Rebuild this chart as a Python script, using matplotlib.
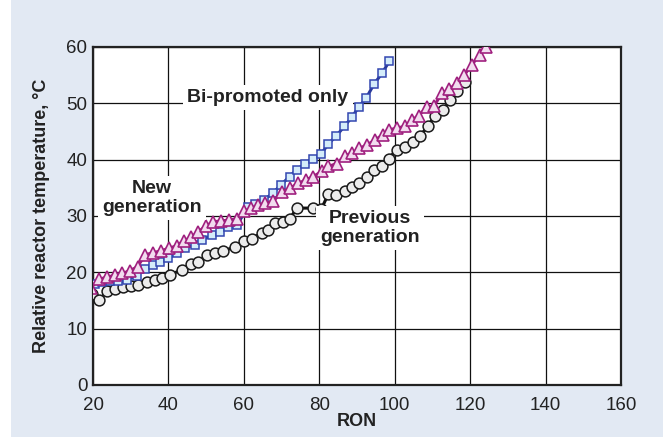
import matplotlib
matplotlib.use("Agg")
import matplotlib.pyplot as plt
from matplotlib import font_manager
from matplotlib.patches import Rectangle

# Previous generation (circles)
prev_ron = [19.6, 21.6, 23.6, 25.8, 28.0, 30.1, 32.0, 34.2, 36.4, 38.4, 40.4, 43.5, 46.0, 47.9,
            50.2, 52.3, 54.4, 57.7, 59.9, 62.1, 64.7, 66.5, 68.3, 70.5, 72.1, 74.0, 78.4, 80.5,
            82.4, 84.5, 86.7, 88.6, 90.6, 92.6, 94.5, 96.6, 98.4, 100.5, 102.7, 104.8, 106.7,
            108.7, 110.7, 112.7, 114.7, 116.6, 118.7]
prev_temp = [16.1, 15.0, 16.6, 17.1, 17.4, 17.6, 17.8, 18.2, 18.6, 19.0, 19.6, 20.4, 21.5, 21.9,
             23.0, 23.4, 23.8, 24.5, 25.5, 26.0, 27.0, 27.6, 28.7, 29.0, 29.4, 31.4, 31.4, 31.2,
             33.9, 33.7, 34.5, 35.2, 35.9, 37.0, 38.2, 38.8, 40.2, 41.8, 42.3, 43.2, 44.2,
             45.9, 47.8, 48.8, 50.5, 52.1, 53.7]

# Bi-promoted only (squares)
bi_ron = [20.5, 22.5, 24.5, 26.5, 29.0, 31.6, 33.8, 35.9, 37.8, 40.0, 42.2, 44.4, 47.0, 48.8,
          51.5, 53.7, 55.9, 58.1, 61.2, 63.0, 65.4, 67.6, 69.8, 72.1, 74.0, 76.2, 78.2, 80.5,
          82.4, 84.5, 86.6, 88.6, 90.4, 92.4, 94.5, 96.6, 98.6]
bi_temp = [18.0, 18.2, 18.4, 18.5, 18.7, 19.4, 20.6, 21.3, 21.9, 22.5, 23.4, 24.3, 24.9, 25.7,
           26.6, 27.2, 28.0, 28.4, 31.6, 32.2, 32.9, 34.0, 35.5, 37.0, 38.2, 39.3, 40.2, 41.0,
           42.8, 44.2, 45.9, 47.5, 49.3, 50.9, 53.4, 55.3, 57.5]

# New generation (triangles)
new_ron = [19.5, 21.6, 23.6, 25.8, 27.8, 29.8, 31.8, 33.8, 36.0, 38.0, 40.2, 42.2, 44.0, 46.0,
           47.9, 49.9, 51.9, 54.0, 56.1, 58.1, 59.9, 62.0, 63.8, 65.6, 67.8, 70.0, 72.2, 74.4,
           76.5, 78.4, 80.6, 82.4, 84.6, 86.8, 88.6, 90.6, 92.6, 94.8, 96.8, 98.6, 100.5,
           102.6, 104.5, 106.3, 108.5, 110.4, 112.5, 114.5, 116.4, 118.4, 120.4, 122.5, 124.2]
new_temp = [17.3, 18.8, 19.1, 19.5, 19.8, 20.3, 21.0, 23.1, 23.5, 23.8, 24.3, 24.7, 25.6, 26.2,
            27.2, 28.2, 29.0, 29.1, 29.3, 29.5, 30.8, 31.4, 31.9, 32.3, 32.6, 34.3, 34.9, 35.8,
            36.4, 37.0, 37.9, 38.8, 39.3, 40.7, 41.1, 42.0, 42.6, 43.5, 44.4, 45.3, 45.6,
            45.9, 47.0, 47.8, 49.3, 49.5, 51.8, 52.5, 53.6, 55.0, 56.8, 58.6, 60.0]

x_ticks = [20, 40, 60, 80, 100, 120, 140, 160]
y_ticks = [0, 10, 20, 30, 40, 50, 60]

names = {f.name for f in font_manager.fontManager.ttflist}
narrow = "Liberation Sans Narrow" if "Liberation Sans Narrow" in names else "Liberation Sans"
plt.rcParams["font.family"] = [narrow, "DejaVu Sans"]

bg = "#e2e9f3"
fig = plt.figure(figsize=(6.63, 4.37), dpi=100, facecolor=bg)
# white strip at the left edge, as in the scan
fig.patches.append(Rectangle((0, 0), 11 / 663, 1, transform=fig.transFigure,
                             facecolor="white", edgecolor="none", zorder=0))
ax = fig.add_axes([0.1403, 0.119, 0.7964, 0.7735])
ax.set_facecolor("white")

ax.plot(prev_ron, prev_temp, color="#111111", lw=2.2, zorder=3,
        marker="o", ms=7.8, mfc="#ececec", mec="#1a1a1a", mew=1.1)
ax.plot(bi_ron, bi_temp, color="#2a3a9c", lw=2.2, zorder=4,
        marker="s", ms=6.4, mfc="#d4ecfa", mec="#3347b0", mew=1.1)
ax.plot(new_ron, new_temp, color="#9a1f7c", lw=2.2, zorder=5,
        marker="^", ms=8.2, mfc="#f2dcef", mec="#a0207f", mew=1.2)

ax.set_xlim(20, 160)
ax.set_ylim(0, 60)
ax.set_xticks(x_ticks)
ax.set_yticks(y_ticks)
ax.grid(True, color="#111111", lw=0.9, zorder=1)
ax.set_axisbelow(True)
ax.tick_params(labelsize=13.5, length=0, colors="#222222")
ax.tick_params(axis="x", pad=9)
ax.tick_params(axis="y", pad=4)
for s in ax.spines.values():
    s.set_color("#222222")
    s.set_linewidth(1.6)

ax.set_xlabel("RON", fontsize=13, fontweight="bold", labelpad=-1, color="#222222")
ax.set_ylabel("Relative reactor temperature, °C", fontsize=13, fontweight="bold",
              labelpad=12, color="#222222")

box = dict(facecolor="white", edgecolor="none", pad=3)
ax.text(66.4, 51, "Bi-promoted only", fontsize=14, fontweight="bold", ha="center",
        va="center", color="#222222", bbox=box, zorder=6)
ax.text(35.6, 33.2, "New\ngeneration", fontsize=14, fontweight="bold", ha="center",
        va="center", color="#222222", linespacing=1.15, bbox=box, zorder=6)
ax.text(93.5, 27.8, "Previous\ngeneration", fontsize=14, fontweight="bold", ha="center",
        va="center", color="#222222", linespacing=1.15, bbox=box, zorder=6)

fig.savefig("out.png", dpi=100, facecolor=bg)
